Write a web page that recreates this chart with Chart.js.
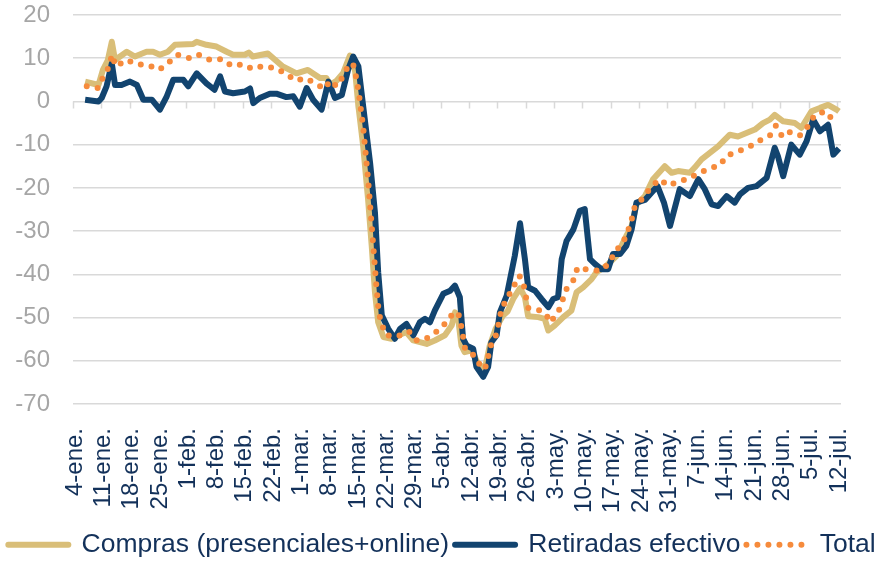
<!DOCTYPE html>
<html lang="es">
<head>
<meta charset="utf-8">
<script src="https://cdn.jsdelivr.net/npm/chart.js@4.4.1/dist/chart.umd.min.js"></script>
<style>
  html, body { margin: 0; padding: 0; background: #fff; }
</style>
</head>
<body>
<canvas id="chart" width="884" height="561"></canvas>
<script>
// eje x: días desde el 4-ene (etiqueta semanal)
const weekLabels = ['4-ene.', '11-ene.', '18-ene.', '25-ene.', '1-feb.', '8-feb.', '15-feb.', '22-feb.',
    '1-mar.', '8-mar.', '15-mar.', '22-mar.', '29-mar.', '5-abr.', '12-abr.', '19-abr.', '26-abr.',
    '3-may.', '10-may.', '17-may.', '24-may.', '31-may.', '7-jun.', '14-jun.', '21-jun.', '28-jun.',
    '5-jul.', '12-jul.'];

const comprasX = [3.0, 6.3, 7.4, 8.6, 9.6, 10.4, 13.3, 15.3, 18.2, 19.8, 21.5, 23.5, 25.2, 29.7, 30.6, 33, 35.5, 38, 39.6, 42.5,
    43.5, 44.5, 48.2, 51.9, 55.3, 58.1, 61.1, 62.7, 63.6, 65.2, 66.8, 68.5, 69.8, 70.6, 71.8, 73, 73.9, 74.7, 75.5, 76.8,
    78.8, 81.3, 82.5, 84.2, 87.5, 89.5, 92, 93.7, 94.5, 95.2, 96.1, 96.9, 98.6, 100.2, 101.9, 103.1, 104.6, 106.4, 107.5, 108.9,
    110.6, 111.8, 112.6, 115.1, 116.7, 117.6, 119.2, 121.3, 123.3, 124.6, 126.2, 128.3, 129.5, 132, 134.5, 136.9, 138.2, 139.4, 141.5, 143.5,
    146.4, 148.1, 149.7, 152.6, 153.8, 155.5, 159.6, 162.5, 164.5, 168.7, 170.7, 172.4, 173.6, 175.7, 178.6, 180.2, 182.7, 184.8, 186.8, 188.9, 189.5];
const comprasY = [4.6, 3.8, 7.3, 9.5, 13.8, 9.6, 11.5, 10.4, 11.5, 11.5, 10.8, 11.5, 13.1, 13.3, 13.8, 13.1, 12.7, 11.5, 10.8, 10.8,
    11.3, 10.4, 11.1, 8.1, 6.5, 7.3, 5.4, 5.4, 3.8, 4.8, 6.5, 10.6, 7, -1, -10.4, -22.6, -33.4, -44.1, -51.1, -54.5,
    -54.9, -53.8, -53.4, -55.3, -56.1, -55.3, -54.1, -51.8, -48.8, -49.5, -56.5, -58, -57.6, -60.7, -61.8, -56.5, -52.5, -49.5, -48.6, -45.7,
    -43.2, -45.3, -49.7, -49.9, -50.3, -53, -51.8, -49.9, -48.4, -44.1, -43, -41.1, -39.5, -38, -35.7, -31.1, -28.8, -23.8, -21.9, -18,
    -15, -16.5, -16.1, -16.5, -15.3, -13.4, -10.4, -7.7, -8.1, -6.5, -5, -4.2, -3.1, -4.6, -5, -6.1, -2.3, -1.5, -0.8, -1.9, -2.3];

const retiradasX = [3.0, 6.3, 7.1, 8.3, 9.6, 10.4, 12, 14.1, 15.8, 17.4, 19.5, 21.5, 23.2, 24.8, 27.3, 28.5, 30.6, 33, 35, 36.4,
    37.6, 39.6, 42.5, 43.8, 44.6, 46.2, 48.7, 50.3, 52.8, 54.5, 56.1, 57.8, 59.4, 61.5, 63.2, 64.8, 66.5, 68.1, 69.3, 70.6,
    71.8, 73.5, 74.7, 75.5, 76.4, 78, 79.6, 80.9, 82.5, 84.2, 85.8, 87.1, 88.3, 89.5, 91.6, 93.3, 94.5, 95.7, 96.5, 97.4,
    99, 99.8, 101.5, 102.7, 103.5, 104.8, 105.6, 107.3, 109.3, 110.6, 111.8, 112.6, 114.3, 115.9, 117.6, 118.8, 120, 120.9, 122.1, 123.8,
    125.4, 126.6, 127.9, 129.1, 130.7, 132.4, 133.6, 135.3, 136.9, 138.2, 139.4, 141.5, 143.1, 144.6, 146.2, 147.7, 150.1, 152.6, 154.7, 156.3,
    158, 159.6, 161.7, 163.7, 165, 167, 169.1, 171.6, 173.6, 174.4, 175.7, 177.7, 179.8, 181.5, 183.1, 184.8, 186.8, 188.1, 189.5];
const retiradasY = [0.4, 0, 0.8, 3.5, 8.8, 3.8, 3.8, 4.6, 3.8, 0.4, 0.4, -1.9, 1.2, 5, 5, 3.5, 6.5, 4.2, 2.7, 5.8,
    2.3, 1.9, 2.3, 3, -0.4, 0.8, 1.8, 1.8, 1, 1.2, -1.2, 3.1, 0.4, -1.9, 4.6, 0.8, 1.5, 7.5, 10.4, 8.1,
    -1.2, -14.2, -25.7, -39.5, -49.5, -52.6, -54.9, -52.6, -51.5, -54.1, -51.1, -50.3, -51.1, -48.4, -44.5, -43.8, -42.6, -45.3, -54.9, -56.5,
    -57.2, -61.4, -63.7, -61.4, -55.7, -54.1, -48.8, -44.9, -35.7, -28.2, -36.5, -43, -43.8, -45.7, -47.6, -45.7, -45.3, -36.5, -32.3, -29.6,
    -25.3, -24.9, -36.5, -37.6, -38.8, -38.8, -35.3, -35.3, -33.4, -29.6, -23.4, -22.8, -21.1, -19.6, -23.4, -28.8, -20.3, -21.9, -18, -20.3,
    -23.8, -24.2, -21.9, -23.4, -21.5, -20, -19.6, -17.7, -10.7, -12.7, -17.3, -10, -12.3, -9.2, -4.2, -6.9, -5.4, -12.3, -10.9];

const totalX = [3.4, 6.3, 7.5, 9, 9.6, 10.6, 13.3, 15.9, 18.6, 21.3, 23.4, 25.8, 28.9, 31, 33.9, 36.8, 39.3, 42.1, 44.4, 47,
    50, 52.5, 55.1, 57.4, 59.9, 62.3, 63.6, 65.2, 66.8, 68.3, 69.3, 70, 70.6, 71.8, 73, 74, 75, 75.6, 76.2, 77.5,
    80.2, 83.1, 85.1, 87.5, 90, 92.3, 94.1, 95.3, 96, 97, 99, 100.7, 101.9, 103.5, 104.8, 106, 108.9, 110.4, 111.4, 112,
    112.6, 115.1, 117, 118, 120, 122.1, 124, 124.8, 127.2, 130.1, 132.6, 134, 136.1, 137.3, 138.3, 139, 141.1, 143.1, 145.2, 147.2,
    149.3, 151.8, 154.2, 157.1, 160, 161.8, 164.8, 167.9, 170.3, 172.4, 173.9, 175.5, 177.3, 179.8, 181.8, 183.5, 186.2, 187.9, 189.5];
const totalY = [3.5, 3.1, 5.8, 8.1, 10.8, 8.1, 9.6, 8.6, 8.4, 7.3, 8.8, 10.8, 10, 10.8, 9.6, 9.8, 8.2, 8.6, 7.5, 8.2,
    7.7, 6.5, 4.8, 5.4, 4.2, 2.9, 4.8, 3.5, 5.8, 8.7, 8.6, 5.8, 2.7, -6, -18, -30, -42, -48.4, -51.2, -54.1,
    -54.4, -53.2, -55.3, -54.8, -53.2, -51.2, -48.9, -48.9, -51.7, -57.2, -58.6, -61, -62, -56.1, -53.8, -48, -43, -40.3, -42, -44.9,
    -47.8, -48.2, -49.1, -51.1, -48.9, -43.4, -41.1, -38.4, -38.9, -39.2, -37.6, -34.9, -32.6, -30, -27, -24.2, -22.3, -19.7, -18, -19.5,
    -18.7, -18, -16.9, -15.6, -14.8, -12.5, -11.5, -10.2, -8.8, -7.9, -5.6, -8.2, -7.1, -7.9, -5.8, -3.1, -2.3, -4.2, -4.6];

const FONT = '"Liberation Sans", Arial, sans-serif';
const NAVY_TEXT = '#13315A';
const GRID = '#D9D9D9';

const toPoints = (xs, ys) => xs.map((x, i) => ({ x, y: ys[i] }));

// marcas del eje horizontal sobre la línea del cero + leyenda algo más abajo
const zeroTicks = {
    id: 'zeroTicks',
    afterLayout(chart) {
        chart.legend.top += 7;
        chart.legend.bottom += 7;
    },
    beforeDatasetsDraw(chart) {
        const { ctx, scales: { x, y } } = chart;
        const y0 = y.getPixelForValue(0);
        ctx.save();
        ctx.strokeStyle = GRID;
        ctx.lineWidth = 1.5;
        ctx.beginPath();
        for (let d = 0; d <= 190; d += 7) {
            const px = Math.round(x.getPixelForValue(d)) + 0.5;
            ctx.moveTo(px, y0);
            ctx.lineTo(px, y0 + 7);
        }
        ctx.stroke();
        ctx.restore();
    }
};

new Chart(document.getElementById('chart'), {
    type: 'line',
    data: {
        datasets: [{
            label: 'Compras (presenciales+online)',
            data: toPoints(comprasX, comprasY),
            borderColor: '#D9BE78',
            backgroundColor: '#D9BE78',
            borderWidth: 6,
            order: 3,
        }, {
            label: 'Retiradas efectivo',
            data: toPoints(retiradasX, retiradasY),
            borderColor: '#12446F',
            backgroundColor: '#12446F',
            borderWidth: 6,
            order: 2,
        }, {
            label: 'Total',
            data: toPoints(totalX, totalY),
            borderColor: '#F68B3C',
            backgroundColor: '#F68B3C',
            borderWidth: 6,
            borderDash: [0, 11],
            borderCapStyle: 'round',
            order: 1,
        }]
    },
    options: {
        responsive: false,
        animation: false,
        layout: { padding: { top: 3, right: 0, bottom: 0, left: 0 } },
        elements: {
            point: { radius: 0, pointStyle: 'line' },
            line: { tension: 0, borderJoinStyle: 'round' }
        },
        scales: {
            x: {
                type: 'linear',
                min: 0,
                max: 190,
                grid: { display: false },
                border: { display: false },
                afterBuildTicks: s => { s.ticks = weekLabels.map((_, i) => ({ value: i * 7 + 0.5 })); },
                afterFit: s => { s.height = 561 - 404 - s.chart.legend.height; },
                ticks: {
                    autoSkip: false,
                    maxRotation: 90,
                    minRotation: 90,
                    padding: 16,
                    color: NAVY_TEXT,
                    font: { family: FONT, size: 24 },
                    callback: (v, i) => weekLabels[i]
                }
            },
            y: {
                min: -70,
                max: 20,
                ticks: { stepSize: 10, padding: 23, color: '#A6A6A6', font: { family: FONT, size: 24 } },
                grid: { color: GRID, lineWidth: 1.5, drawTicks: false },
                border: { display: false },
                afterFit: s => { s.width = 73; s.paddingTop = 15; s.paddingBottom = 0; }
            },
            // margen derecho del área de trazado
            yRight: {
                position: 'right',
                grid: { display: false },
                border: { display: false },
                ticks: { display: false },
                afterFit: s => { s.width = 43; s.paddingTop = 0; s.paddingBottom = 0; }
            }
        },
        plugins: {
            tooltip: { enabled: false },
            legend: {
                position: 'bottom',
                labels: {
                    usePointStyle: true,
                    pointStyleWidth: 60,
                    padding: 6,
                    color: NAVY_TEXT,
                    font: { family: FONT, size: 26.5 },
                    sort: (a, b) => a.datasetIndex - b.datasetIndex,
                    generateLabels: chart => Chart.defaults.plugins.legend.labels.generateLabels(chart).map(item => {
                        const ds = chart.data.datasets[item.datasetIndex];
                        return { ...item, pointStyle: 'line', lineCap: 'round', lineDash: ds.borderDash || [] };
                    })
                }
            }
        }
    },
    plugins: [zeroTicks]
});
</script>
</body>
</html>
